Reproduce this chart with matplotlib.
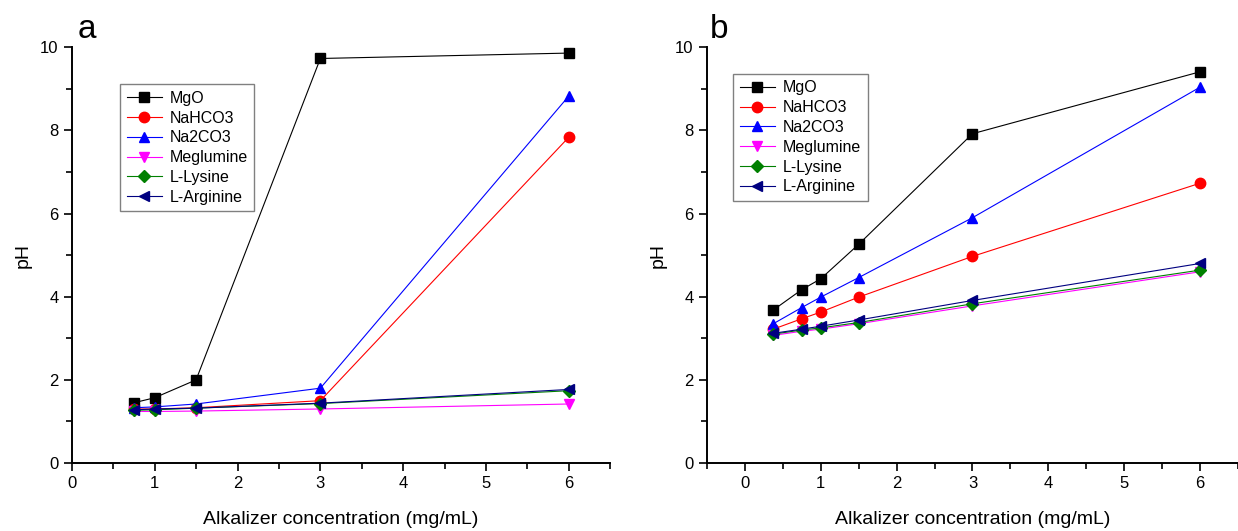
import matplotlib
matplotlib.use('Agg')
import matplotlib.pyplot as plt
from matplotlib.ticker import MultipleLocator

plt.rcParams['font.family'] = ['Liberation Sans', 'DejaVu Sans']

names = ['MgO', 'NaHCO3', 'Na2CO3', 'Meglumine', 'L-Lysine', 'L-Arginine']
colors = ['black', 'red', 'blue', 'magenta', 'green', 'navy']
markers = ['s', 'o', '^', 'v', 'D', '<']

# panel a
x_a = [0.75, 1, 1.5, 3, 6]
mgo_a = [1.45, 1.57, 2.0, 9.73, 9.86]
nahco3_a = [1.30, 1.30, 1.33, 1.50, 7.84]
na2co3_a = [1.33, 1.35, 1.42, 1.80, 8.83]
meglumine_a = [1.24, 1.24, 1.25, 1.30, 1.42]
lysine_a = [1.27, 1.28, 1.32, 1.43, 1.74]
arginine_a = [1.28, 1.30, 1.32, 1.44, 1.77]

# panel b
x_b = [0.375, 0.75, 1, 1.5, 3, 6]
mgo_b = [3.68, 4.17, 4.43, 5.26, 7.92, 9.41]
nahco3_b = [3.22, 3.47, 3.63, 3.99, 4.97, 6.73]
na2co3_b = [3.35, 3.74, 3.99, 4.46, 5.90, 9.04]
meglumine_b = [3.07, 3.17, 3.22, 3.35, 3.78, 4.60]
lysine_b = [3.10, 3.20, 3.25, 3.38, 3.83, 4.64]
arginine_b = [3.12, 3.22, 3.29, 3.44, 3.91, 4.80]

series_a = [mgo_a, nahco3_a, na2co3_a, meglumine_a, lysine_a, arginine_a]
series_b = [mgo_b, nahco3_b, na2co3_b, meglumine_b, lysine_b, arginine_b]

fig = plt.figure(figsize=(12.38, 5.31), dpi=100)
ax_a = fig.add_axes([0.058, 0.128, 0.435, 0.783])
ax_b = fig.add_axes([0.571, 0.128, 0.429, 0.783])


def draw(ax, x, series, xlim, legend_pos):
    for y, name, c, m in zip(series, names, colors, markers):
        ms = 6.5 if m == 'D' else 7.5
        ax.plot(x, y, color=c, marker=m, markersize=ms, linewidth=0.8,
                label=name, clip_on=False, zorder=3)
    ax.set_xlim(*xlim)
    ax.set_ylim(0, 10)
    ax.xaxis.set_major_locator(MultipleLocator(1))
    ax.xaxis.set_minor_locator(MultipleLocator(0.5))
    ax.yaxis.set_major_locator(MultipleLocator(2))
    ax.yaxis.set_minor_locator(MultipleLocator(1))
    ax.tick_params(which='major', direction='out', length=6, width=1.2,
                   labelsize=12)
    ax.tick_params(which='minor', direction='out', length=4, width=1.2)
    for s in ['top', 'right']:
        ax.spines[s].set_visible(False)
    for s in ['left', 'bottom']:
        ax.spines[s].set_linewidth(1.4)
    ax.set_xlabel('Alkalizer concentration (mg/mL)', fontsize=14, labelpad=14)
    ax.set_ylabel('pH', fontsize=14, labelpad=6)
    leg = ax.legend(loc='upper left', bbox_to_anchor=legend_pos, fontsize=11.5,
                    fancybox=False, edgecolor='gray', framealpha=1,
                    handlelength=2.2, borderpad=0.4, labelspacing=0.3,
                    handletextpad=0.5)
    leg.get_frame().set_linewidth(1.0)


draw(ax_a, x_a, series_a, (0, 6.5), (0.075, 0.93))
draw(ax_b, x_b, series_b, (-0.5, 6.5), (0.035, 0.955))

fig.text(0.063, 0.945, 'a', fontsize=24, va='center')
fig.text(0.573, 0.945, 'b', fontsize=24, va='center')

fig.savefig('out.png', dpi=100)
